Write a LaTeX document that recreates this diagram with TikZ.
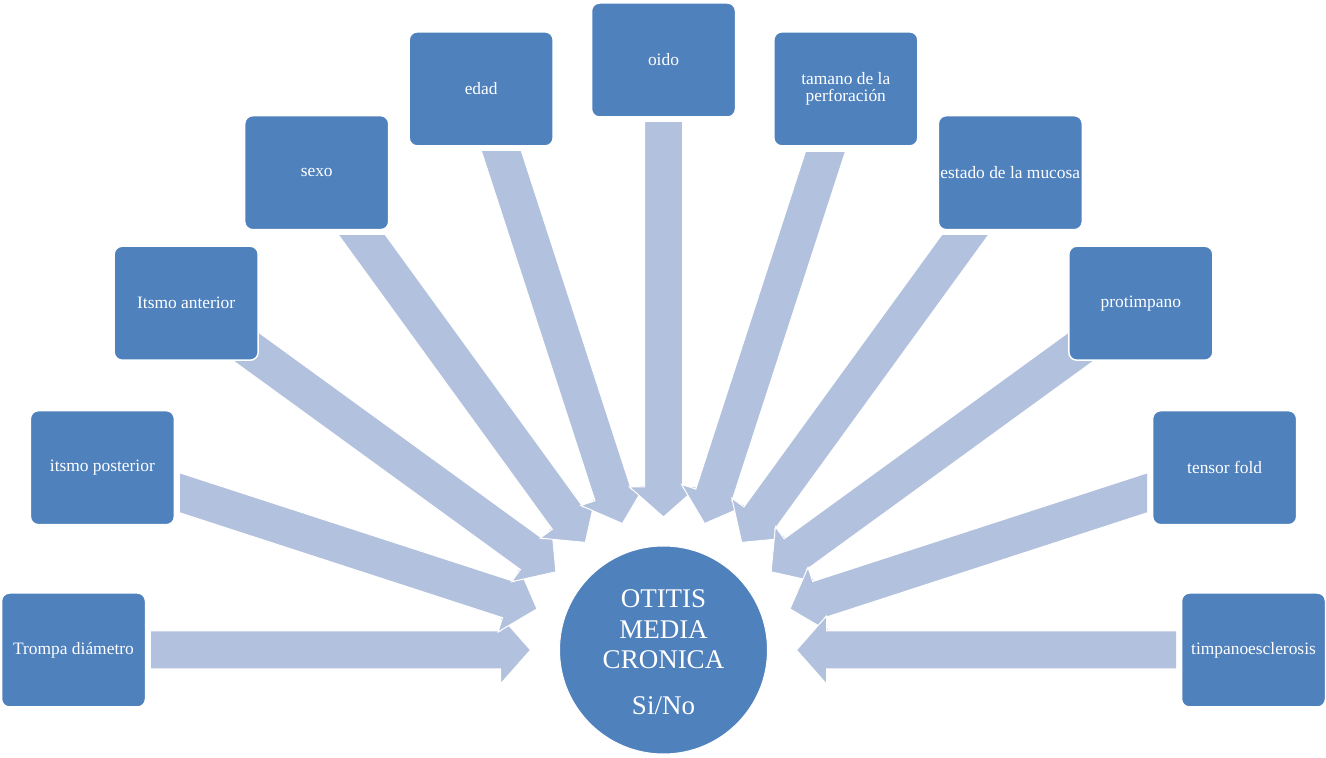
\documentclass[tikz,border=0pt]{standalone}
\usepackage{fontspec}
\setmainfont{Liberation Serif}
\usetikzlibrary{calc}
\definecolor{boxblue}{RGB}{79,129,189}
\definecolor{arrowblue}{RGB}{178,193,221}
\newcommand{\fanarrow}[3]{%
  \begin{scope}
    \clip #3;
    \path[blockarrow, shift={(c.center)}, rotate=#1]
      (133,0) -- (163,34) -- (163,19) -- (#2,19) -- (#2,-19) -- (163,-19) -- (163,-34) -- cycle;
  \end{scope}}
\begin{document}
\begin{tikzpicture}[x=1pt,y=1pt,
  factor/.style={rectangle, rounded corners=8pt, fill=boxblue, draw=white, line width=1.5pt,
    minimum width=144pt, minimum height=114pt, text=white,
    font=\fontsize{17.4}{17}\selectfont, align=center, inner sep=2pt},
  hub/.style={circle, fill=boxblue, draw=white, line width=1pt, minimum size=208pt,
    text=white, font=\fontsize{27}{30.5}\selectfont, align=center, inner sep=0pt},
  blockarrow/.style={fill=arrowblue, draw=white, line width=1pt, line join=miter}]
\useasboundingbox (0,0) rectangle (1326,758);
\node[hub] (c) at (663.5,108) {};
\node[text=white, font=\fontsize{27}{30.5}\selectfont, align=center] (ct) at ($(c.center)+(0,-2)$) {OTITIS\\MEDIA\\CRONICA\\[15pt]Si/No};
% arrows
\fanarrow{180}{560}{(151,0) rectangle (1326,758)}
\fanarrow{162}{560}{(180,0) rectangle (1326,758)}
\fanarrow{144}{560}{(0,0) rectangle (1326,758)}
\fanarrow{126}{560}{(0,0) rectangle (1326,522)}
\fanarrow{108}{560}{(0,0) rectangle (1326,606)}
\fanarrow{90}{560}{(0,0) rectangle (1326,635)}
\fanarrow{72}{560}{(0,0) rectangle (1326,605)}
\fanarrow{54}{560}{(0,0) rectangle (1326,522)}
\fanarrow{36}{560}{(0,0) rectangle (1326,758)}
\fanarrow{18}{560}{(0,0) rectangle (1147,758)}
\fanarrow{0}{560}{(0,0) rectangle (1176,758)}
% boxes
\node[factor] (f1) at ($(c.center)+(180:590)$) {Trompa diámetro};
\node[factor] (f2) at ($(c.center)+(162:590)$) {itsmo posterior};
\node[factor] (f3) at ($(c.center)+(144:590)$) {Itsmo anterior};
\node[factor] (f4) at ($(c.center)+(126:590)$) {sexo};
\node[factor] (f5) at ($(c.center)+(108:590)$) {edad};
\node[factor] (f6) at ($(c.center)+(90:590)$) {oido};
\node[factor] (f7) at ($(c.center)+(72:590)$) {tamano de la\\perforación};
\node[factor] (f8) at ($(c.center)+(54:590)$) {estado de la mucosa};
\node[factor] (f9) at ($(c.center)+(36:590)$) {protimpano};
\node[factor] (f10) at ($(c.center)+(18:590)$) {tensor fold};
\node[factor] (f11) at ($(c.center)+(0:590)$) {timpanoesclerosis};
\end{tikzpicture}
\end{document}
